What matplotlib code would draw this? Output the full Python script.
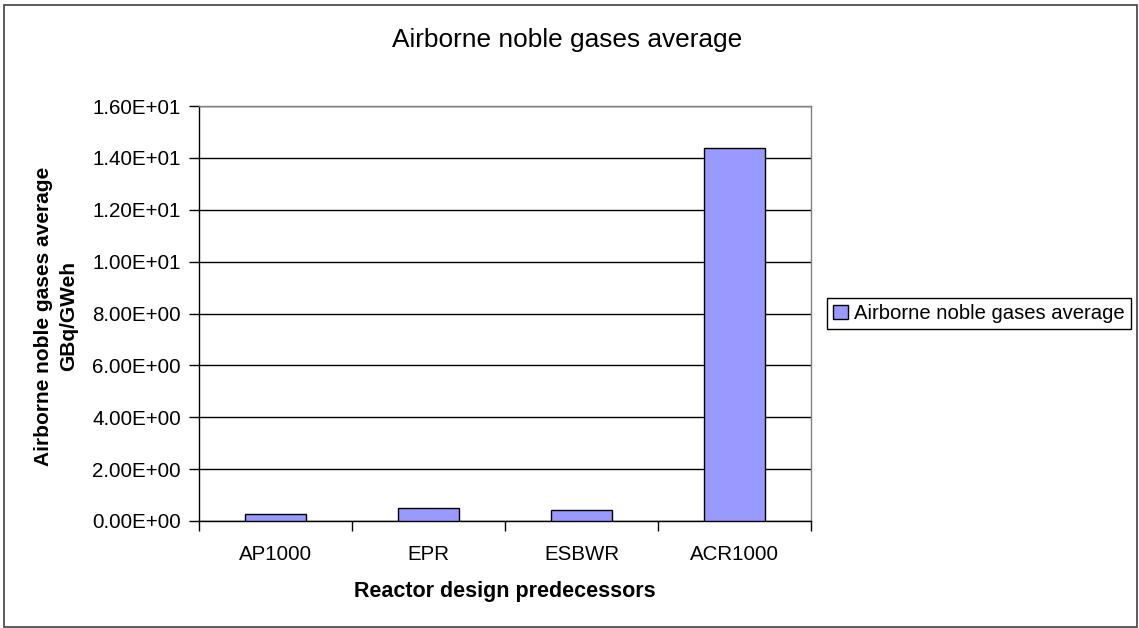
import matplotlib
matplotlib.use('Agg')
import matplotlib.pyplot as plt
from matplotlib.patches import Rectangle
from matplotlib.ticker import FuncFormatter, MultipleLocator

plt.rcParams['font.family'] = ['Liberation Sans', 'DejaVu Sans']

reactors = ['AP1000', 'EPR', 'ESBWR', 'ACR1000']
noble_gases = [0.28, 0.51, 0.41, 14.4]
series_name = 'Airborne noble gases average'

fig = plt.figure(figsize=(11.39, 6.28), dpi=100)
ax = fig.add_axes([199 / 1139, 1 - 521 / 628, 612 / 1139, 415 / 628])

ax.bar(range(len(reactors)), noble_gases, width=0.405, color='#9999FF',
       edgecolor='black', linewidth=1.0, label=series_name, zorder=3)

ax.set_xlim(-0.5, len(reactors) - 0.5)
ax.set_ylim(0, 16)
ax.yaxis.set_major_locator(MultipleLocator(2))
ax.yaxis.set_major_formatter(FuncFormatter(lambda v, p: format(v, '.2E')))
ax.grid(axis='y', color='black', linewidth=1.0, zorder=0)

# category labels in the middle, tick marks on the boundaries
ax.set_xticks(range(len(reactors)))
ax.set_xticklabels(reactors)
ax.tick_params(axis='x', which='major', length=0, pad=17, labelsize=14.8)
ax.set_xticks([i - 0.5 for i in range(len(reactors) + 1)], minor=True)
ax.tick_params(axis='x', which='minor', length=7, width=1, direction='out')
ax.tick_params(axis='y', length=7, width=1, direction='out', pad=6, labelsize=14.8)

for side in ['top', 'right']:
    ax.spines[side].set_color('#808080')
for side in ['left', 'bottom']:
    ax.spines[side].set_color('black')
for s in ax.spines.values():
    s.set_linewidth(1.0)

fig.text(567 / 1139, 1 - 40 / 628, series_name, ha='center', va='center', fontsize=18.9)
fig.text(505 / 1139, 1 - 591 / 628, 'Reactor design predecessors', ha='center', va='center',
         fontsize=15.5, fontweight='bold')
fig.text(56 / 1139, 1 - 316 / 628, 'Airborne noble gases average\nGBq/GWeh', ha='center',
         va='center', rotation=90, fontsize=15, fontweight='bold', linespacing=1.4)

leg = ax.legend(handles=[Rectangle((0, 0), 1, 1, facecolor='#9999FF', edgecolor='black', linewidth=1)],
                labels=[series_name], loc='center left',
                bbox_to_anchor=(827 / 1139, 1 - 313.5 / 628), bbox_transform=fig.transFigure,
                fontsize=14.6, handlelength=0.75, handleheight=0.75, handletextpad=0.3,
                borderpad=0.3, borderaxespad=0, fancybox=False, framealpha=1)
leg.get_frame().set_edgecolor('black')
leg.get_frame().set_linewidth(1.0)

fig.patches.append(Rectangle((4 / 1139, 1 / 628), 1133 / 1139, 622 / 628, transform=fig.transFigure,
                             fill=False, edgecolor='#404040', linewidth=1.2))

fig.savefig('out.png', dpi=100)
